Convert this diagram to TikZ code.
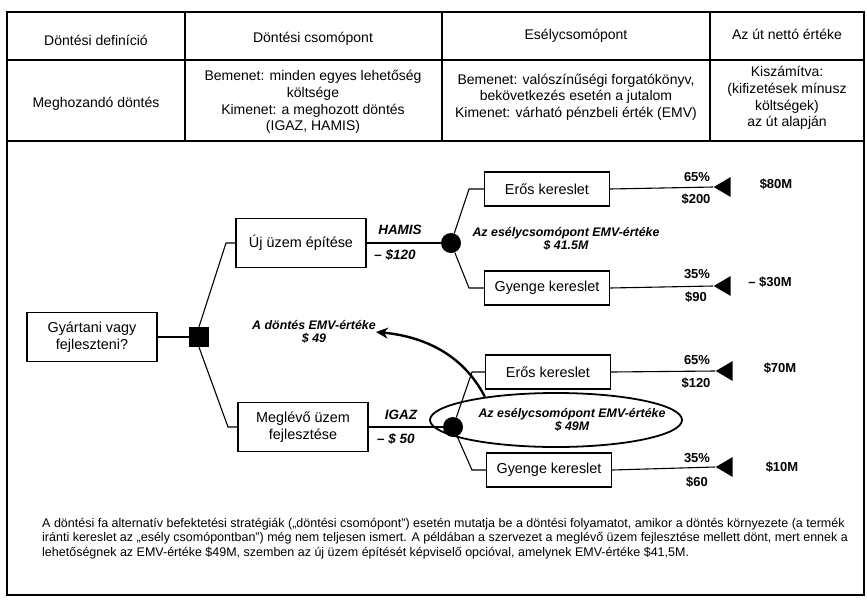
\documentclass[tikz,border=0pt]{standalone}
\usepackage{fontspec}
\setmainfont{Liberation Sans}
\usetikzlibrary{shapes.geometric,arrows.meta,calc}
\begin{document}
\begin{tikzpicture}[x=1pt,y=-1pt,
  tline/.style={line width=1.4pt},
  ttext/.style={font=\fontsize{14}{16.7}\selectfont, align=center, inner sep=0},
  dbox/.style={draw, line width=1.3pt, minimum width=130pt, minimum height=49pt, align=center, font=\fontsize{14.4}{17}\selectfont, inner sep=0},
  obox/.style={draw, line width=1.3pt, minimum width=125pt, minimum height=34pt, font=\fontsize{14.4}{17}\selectfont, inner sep=0},
  conn/.style={line width=1.1pt},
  chance/.style={circle, fill=black, minimum size=20pt, inner sep=0},
  dec/.style={rectangle, fill=black, minimum size=20pt, inner sep=0},
  endtri/.style={isosceles triangle, fill=black, shape border rotate=180, isosceles triangle stretches, minimum height=17pt, minimum width=20pt, inner sep=0},
  bi/.style={font=\fontsize{12.4}{13.5}\selectfont\bfseries\itshape, align=center, inner sep=0},
  lbl/.style={font=\fontsize{13.5}{15}\selectfont\bfseries\itshape, inner sep=0},
  num/.style={font=\fontsize{13}{15}\selectfont\bfseries, inner sep=0}
]
\useasboundingbox (0,0) rectangle (867,608);
% frame and table
\draw[tline] (7,12) rectangle (864,595);
\draw[tline] (7,60) -- (864,60);
\draw[tline] (7,141) -- (864,141);
\draw[tline] (185,12) -- (185,141);
\draw[tline] (442,12) -- (442,141);
\draw[tline] (710,12) -- (710,141);
\node[ttext] (h1) at (96,40) {Döntési definíció};
\node[ttext] (h2) at (313,39) {Döntési csomópont};
\node[ttext] (h3) at (576,36) {Esélycsomópont};
\node[ttext] (h4) at (787,34) {Az út nettó értéke};
\node[ttext] (r1) at (96,104) {Meghozandó döntés};
\node[ttext] (r2) at (313,102) {Bemenet: minden egyes lehetőség\\költsége\\Kimenet: a meghozott döntés\\(IGAZ, HAMIS)};
\node[ttext] (r3) at (576,97) {Bemenet: valószínűségi forgatókönyv,\\bekövetkezés esetén a jutalom\\Kimenet: várható pénzbeli érték (EMV)};
\node[ttext] (r4) at (787,98) {Kiszámítva:\\(kifizetések mínusz\\költségek)\\az út alapján};
% decision tree
\node[dbox] (gy) at (92,337) {Gyártani vagy\\fejleszteni?};
\node[dec] (sq) at (199,337) {};
\node[dbox] (uj) at (301,243) {Új üzem építése};
\node[dbox] (me) at (303,427) {Meglévő üzem\\fejlesztése};
\node[chance] (c1) at (451,243) {};
\node[chance] (c2) at (453,427) {};
\node[obox] (e1) at (547,189) {Erős kereslet};
\node[obox] (g1) at (547,288) {Gyenge kereslet};
\node[obox] (e2) at (548,372) {Erős kereslet};
\node[obox] (g2) at (549,470) {Gyenge kereslet};
\node[endtri] (t1) at (725,187) {};
\node[endtri] (t2) at (725,286) {};
\node[endtri] (t3) at (727,371) {};
\node[endtri] (t4) at (727,467) {};
\coordinate (k1) at (226,243);
\coordinate (k2) at (228,427);
\coordinate (k3) at (469,189);
\coordinate (k4) at (469,288);
\coordinate (k5) at (472,372);
\coordinate (k6) at (472,470);
\draw[conn] (gy.east) -- (sq.west);
\draw[conn] (sq.north) -- (k1) -- (uj.west);
\draw[conn] (sq.south) -- (k2) -- (me.west);
\draw[conn] (uj.east) -- (c1.west);
\draw[conn] (me.east) -- (c2.west);
\draw[conn] (c1) -- (k3) -- (e1.west);
\draw[conn] (c1) -- (k4) -- (g1.west);
\draw[conn] (c2) -- (k5) -- (e2.west);
\draw[conn] (c2) -- (k6) -- (g2.west);
\draw[conn] (e1.east) -- (t1.apex);
\draw[conn] (g1.east) -- (t2.apex);
\draw[conn] (e2.east) -- (t3.apex);
\draw[conn] (g2.east) -- (t4.apex);
% labels
\node[lbl] (hamis) at (400,230) {HAMIS};
\node[lbl] (m120) at (395,255) {– \$120};
\node[lbl] (igaz) at (401,415) {IGAZ};
\node[lbl] (m50) at (396,439) {– \$ 50};
\node[bi] (emv1) at (566,239) {Az esélycsomópont EMV-értéke\\\$ 41.5M};
\node[bi] (emv2) at (572,420) {Az esélycsomópont EMV-értéke\\\$ 49M};
\node[bi] (emvd) at (314,332) {A döntés EMV-értéke\\\$ 49};
\node[draw, ellipse, line width=1.8pt, minimum width=252pt, minimum height=54pt, inner sep=0] (ell) at (556,420) {};
\draw[line width=2.4pt, -{Stealth[length=12pt,width=11pt]}] (ell.162) .. controls (462,352) and (420,336) .. (emvd.east);
\node[num] (p1) at (697,177) {65\%};
\node[num] (v1) at (696,199) {\$200};
\node[num] (o1) at (776,184) {\$80M};
\node[num] (p2) at (697,274) {35\%};
\node[num] (v2) at (696,297) {\$90};
\node[num] (o2) at (770,282) {– \$30M};
\node[num] (p3) at (697,360) {65\%};
\node[num] (v3) at (696,383) {\$120};
\node[num] (o3) at (780,368) {\$70M};
\node[num] (p4) at (697,458) {35\%};
\node[num] (v4) at (697,482) {\$60};
\node[num] (o4) at (782,467) {\$10M};
% caption
\node[anchor=north west, align=left, inner sep=0, font=\fontsize{12.5}{14.3}\selectfont] (cap) at (42,518) {A döntési fa alternatív befektetési stratégiák („döntési csomópont”) esetén mutatja be a döntési folyamatot, amikor a döntés környezete (a termék\\iránti kereslet az „esély csomópontban”) még nem teljesen ismert. A példában a szervezet a meglévő üzem fejlesztése mellett dönt, mert ennek a\\lehetőségnek az EMV-értéke \$49M, szemben az új üzem építését képviselő opcióval, amelynek EMV-értéke \$41,5M.};
\end{tikzpicture}
\end{document}
